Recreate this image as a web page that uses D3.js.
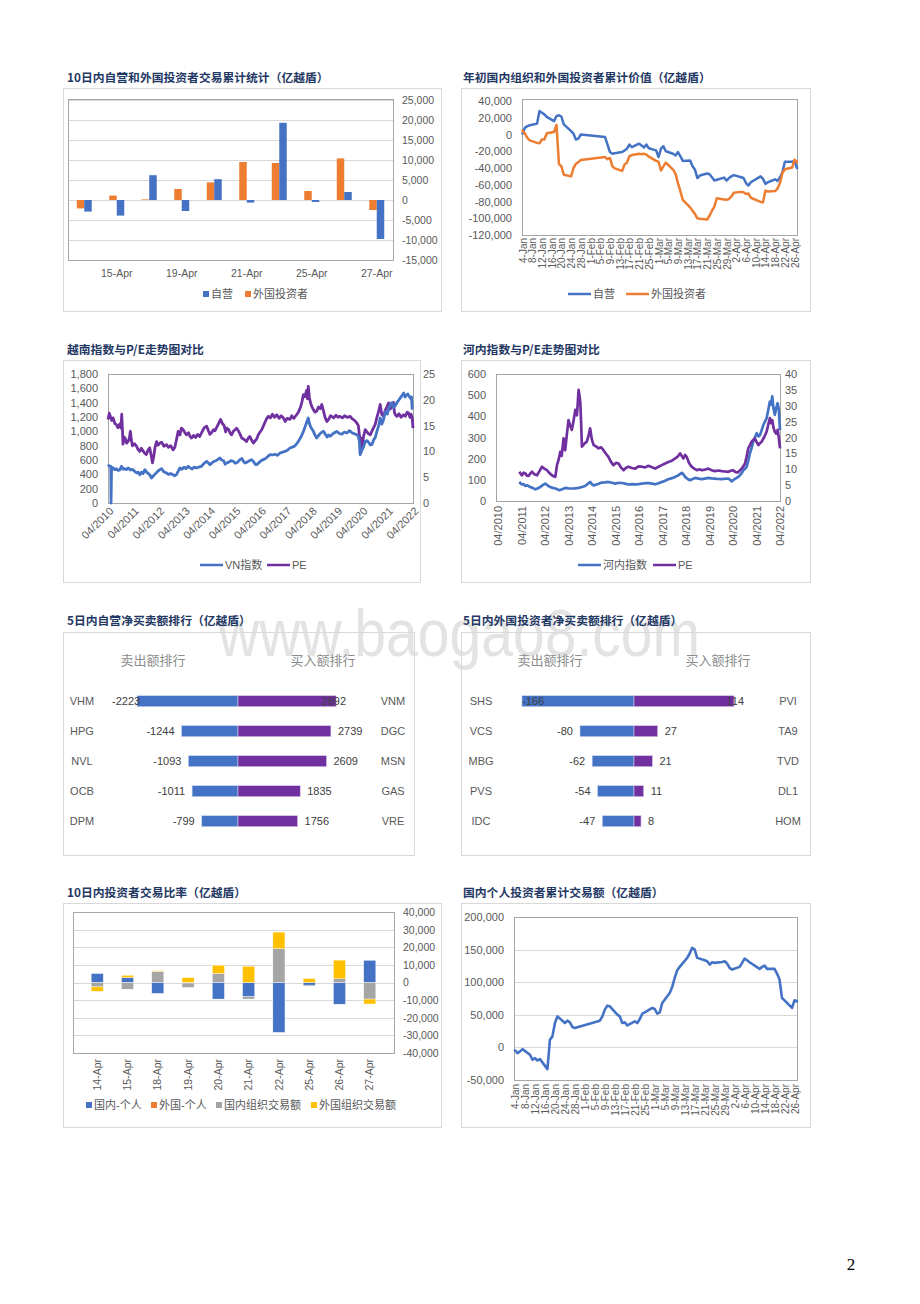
<!DOCTYPE html>
<html><head><meta charset="utf-8">
<script src="https://cdn.jsdelivr.net/npm/d3@7"></script>
<style>body{margin:0;background:#fff}svg{display:block}</style>
</head><body>
<script>
// ---------------- DATA ----------------
const c1Dates = ["14-Apr","15-Apr","18-Apr","19-Apr","20-Apr","21-Apr","22-Apr","25-Apr","26-Apr","27-Apr"];
const c1Labels = ["15-Apr","19-Apr","21-Apr","25-Apr","27-Apr"];
const c1Self = [-2900,-3900,6200,-2750,5200,-650,19300,-500,2000,-9750];
const c1Foreign = [-2100,1100,150,2750,4400,9500,9250,2250,10400,-2500];
const c1Ticks = [-15000,-10000,-5000,0,5000,10000,15000,20000,25000];

const tradeDays = ["01-04","01-05","01-06","01-07","01-10","01-11","01-12","01-13","01-14","01-17","01-18","01-19","01-20","01-21","01-24","01-25","01-26","01-27","01-28",
"02-07","02-08","02-09","02-10","02-11","02-14","02-15","02-16","02-17","02-18","02-21","02-22","02-23","02-24","02-25","02-28",
"03-01","03-02","03-03","03-04","03-07","03-08","03-09","03-10","03-11","03-14","03-15","03-16","03-17","03-18","03-21","03-22","03-23","03-24","03-25","03-28","03-29","03-30","03-31",
"04-01","04-04","04-05","04-06","04-07","04-08","04-12","04-13","04-14","04-15","04-18","04-19","04-20","04-21","04-22","04-25","04-26","04-27"];
const dayTicks = ["4-Jan","8-Jan","12-Jan","16-Jan","20-Jan","24-Jan","28-Jan","1-Feb","5-Feb","9-Feb","13-Feb","17-Feb","21-Feb","25-Feb","1-Mar","5-Mar","9-Mar","13-Mar","17-Mar","21-Mar","25-Mar","29-Mar","2-Apr","6-Apr","10-Apr","14-Apr","18-Apr","22-Apr","26-Apr"];
const c2Self = [1000,8000,10000,11000,13000,28000,26000,24000,21000,16000,22000,23000,21500,12000,4000,1000,-6000,-5000,0,
-3000,-12000,-21000,-23000,-22500,-21000,-19000,-17000,-12000,-15000,-11000,-13000,-15500,-12000,-16500,-19000,
-27000,-17000,-14000,-20000,-23000,-25000,-21000,-26000,-31500,-31000,-38000,-42000,-52000,-49000,-46500,-47500,-51000,-55000,-54000,-51500,-55000,-52000,-50000,
-48500,-51000,-52000,-58000,-61000,-57000,-50000,-53000,-59000,-57000,-53500,-55500,-51000,-45000,-32500,-32500,-31500,-40000];
const c2Foreign = [4400,1000,-4000,-7000,-10000,-10500,-6000,-6000,1500,3000,11500,-35000,-38000,-48000,-50000,-40000,-35000,-33000,-30500,
-27000,-29500,-28000,-38000,-40500,-43500,-36000,-33500,-26000,-24500,-23000,-23500,-23000,-24000,-26500,-31500,
-32500,-43000,-38000,-33500,-42000,-47000,-58000,-68000,-78000,-87000,-91000,-95000,-100000,-100500,-101500,-97000,-91000,-86000,-76000,-77500,-78000,-77000,-74000,
-69500,-68500,-69000,-71000,-70500,-75500,-80500,-81000,-67000,-68000,-67500,-64500,-58000,-46000,-41500,-39500,-30000,-33000];
const c2Ticks = [-120000,-100000,-80000,-60000,-40000,-20000,0,20000,40000];

const yearTicks = ["04/2010","04/2011","04/2012","04/2013","04/2014","04/2015","04/2016","04/2017","04/2018","04/2019","04/2020","04/2021","04/2022"];
const vnIndex = [[2010.25,535],[2010.29,520],[2010.32,512],[2010.36,512],[2010.37,0],[2010.39,500],[2010.45,490],[2010.51,465],[2010.58,478],[2010.64,455],[2010.71,460],[2010.78,512],[2010.85,470],[2010.91,480],[2010.97,465],[2011.05,490],[2011.13,460],[2011.21,470],[2011.30,442],[2011.38,420],[2011.44,430],[2011.50,395],[2011.57,430],[2011.63,410],[2011.70,465],[2011.77,430],[2011.84,410],[2011.90,390],[2011.96,349],[2012.04,380],[2012.12,410],[2012.20,440],[2012.29,465],[2012.36,480],[2012.43,440],[2012.49,430],[2012.55,419],[2012.63,400],[2012.72,410],[2012.81,395],[2012.88,380],[2012.95,400],[2013.02,450],[2013.08,488],[2013.16,470],[2013.24,500],[2013.32,480],[2013.40,512],[2013.48,490],[2013.56,475],[2013.64,500],[2013.73,488],[2013.82,500],[2013.92,510],[2014.02,550],[2014.13,581],[2014.19,560],[2014.26,535],[2014.34,560],[2014.42,580],[2014.50,590],[2014.58,610],[2014.65,628],[2014.72,600],[2014.80,590],[2014.86,540],[2014.92,558],[2015.00,570],[2015.09,590],[2015.18,581],[2015.26,555],[2015.35,570],[2015.44,605],[2015.52,620],[2015.58,580],[2015.64,558],[2015.72,570],[2015.81,590],[2015.90,605],[2015.98,575],[2016.04,540],[2016.10,535],[2016.18,560],[2016.27,590],[2016.36,605],[2016.45,620],[2016.54,650],[2016.62,674],[2016.72,670],[2016.82,680],[2016.92,665],[2017.02,698],[2017.12,710],[2017.22,720],[2017.32,740],[2017.41,767],[2017.50,780],[2017.58,790],[2017.66,820],[2017.74,860],[2017.84,920],[2017.94,1000],[2018.02,1080],[2018.08,1140],[2018.13,1186],[2018.18,1100],[2018.24,1050],[2018.33,1000],[2018.39,950],[2018.46,907],[2018.53,940],[2018.60,970],[2018.67,990],[2018.73,1000],[2018.80,960],[2018.87,920],[2018.93,950],[2018.99,930],[2019.08,960],[2019.16,980],[2019.25,1000],[2019.35,970],[2019.45,960],[2019.55,990],[2019.65,977],[2019.75,1010],[2019.85,980],[2019.95,965],[2020.04,953],[2020.10,930],[2020.14,860],[2020.17,674],[2020.22,720],[2020.30,780],[2020.37,860],[2020.45,870],[2020.52,840],[2020.57,810],[2020.63,814],[2020.70,880],[2020.77,920],[2020.83,1000],[2020.90,1080],[2020.96,1186],[2021.02,1100],[2021.08,1150],[2021.16,1279],[2021.24,1240],[2021.30,1320],[2021.36,1372],[2021.42,1400],[2021.48,1330],[2021.55,1360],[2021.62,1400],[2021.70,1440],[2021.78,1480],[2021.84,1510],[2021.88,1535],[2021.94,1480],[2022.00,1510],[2022.05,1520],[2022.10,1488],[2022.15,1460],[2022.19,1480],[2022.22,1302]];
const vnPE = [[2010.25,16.2],[2010.30,17.4],[2010.34,16.8],[2010.40,16.0],[2010.45,16.5],[2010.52,15.4],[2010.58,15.2],[2010.64,14.6],[2010.71,15.3],[2010.76,14.5],[2010.79,17.2],[2010.82,14.0],[2010.84,11.4],[2010.88,12.8],[2010.93,12.5],[2010.98,11.6],[2011.04,11.9],[2011.09,12.6],[2011.13,13.9],[2011.17,12.2],[2011.21,11.1],[2011.29,11.5],[2011.37,11.0],[2011.43,10.4],[2011.50,10.0],[2011.56,10.6],[2011.63,10.1],[2011.70,9.6],[2011.76,9.4],[2011.82,10.2],[2011.89,10.7],[2011.95,9.2],[2012.00,7.8],[2012.05,9.0],[2012.10,10.8],[2012.16,11.9],[2012.22,11.2],[2012.29,11.6],[2012.36,11.8],[2012.45,11.0],[2012.55,11.3],[2012.63,10.8],[2012.72,11.1],[2012.81,10.3],[2012.88,10.8],[2012.95,12.4],[2013.01,13.9],[2013.08,13.2],[2013.14,14.5],[2013.21,14.2],[2013.28,13.6],[2013.34,13.2],[2013.42,13.6],[2013.48,12.9],[2013.54,12.6],[2013.62,13.1],[2013.70,12.7],[2013.78,13.3],[2013.86,12.9],[2013.95,13.8],[2014.04,14.6],[2014.13,14.9],[2014.20,14.0],[2014.26,13.3],[2014.32,13.6],[2014.40,14.2],[2014.46,14.0],[2014.52,14.6],[2014.60,15.4],[2014.68,16.2],[2014.75,15.4],[2014.82,15.0],[2014.88,13.8],[2014.92,14.5],[2015.00,14.2],[2015.05,13.6],[2015.11,13.2],[2015.18,13.9],[2015.25,14.2],[2015.31,14.5],[2015.38,14.0],[2015.45,13.3],[2015.51,12.6],[2015.58,12.4],[2015.64,12.2],[2015.70,11.9],[2015.76,12.5],[2015.83,12.9],[2015.90,12.2],[2015.97,11.6],[2016.03,12.0],[2016.10,12.4],[2016.16,13.2],[2016.24,13.8],[2016.30,14.2],[2016.36,14.9],[2016.44,15.8],[2016.50,16.4],[2016.56,16.8],[2016.64,16.5],[2016.72,17.2],[2016.80,16.6],[2016.89,17.1],[2016.98,16.4],[2017.06,16.9],[2017.15,16.5],[2017.22,15.8],[2017.30,16.4],[2017.41,16.2],[2017.48,16.9],[2017.56,16.4],[2017.67,17.1],[2017.74,17.6],[2017.82,18.5],[2017.88,19.6],[2017.94,21.0],[2018.00,20.6],[2018.06,21.8],[2018.10,20.2],[2018.13,22.6],[2018.17,20.5],[2018.22,19.4],[2018.27,18.7],[2018.34,18.0],[2018.40,17.6],[2018.46,17.8],[2018.53,18.6],[2018.60,18.3],[2018.66,19.1],[2018.72,18.0],[2018.79,16.6],[2018.86,15.8],[2018.93,16.2],[2019.00,16.9],[2019.05,16.8],[2019.13,16.5],[2019.22,17.0],[2019.30,16.6],[2019.38,16.8],[2019.47,16.5],[2019.56,16.9],[2019.66,16.6],[2019.78,16.8],[2019.86,16.3],[2019.95,16.0],[2020.04,15.5],[2020.10,15.0],[2020.14,13.2],[2020.17,11.9],[2020.21,12.6],[2020.24,10.7],[2020.30,12.8],[2020.37,14.2],[2020.44,13.8],[2020.50,13.4],[2020.57,13.2],[2020.64,14.0],[2020.70,14.6],[2020.76,15.2],[2020.83,16.6],[2020.90,17.8],[2020.96,19.1],[2021.02,17.2],[2021.09,16.8],[2021.16,18.0],[2021.22,18.6],[2021.29,19.4],[2021.35,18.2],[2021.42,18.7],[2021.48,19.5],[2021.52,17.5],[2021.57,17.0],[2021.62,16.8],[2021.70,17.3],[2021.78,16.6],[2021.88,17.1],[2021.95,16.8],[2022.02,17.6],[2022.08,17.4],[2022.13,16.6],[2022.18,17.2],[2022.22,16.4],[2022.25,14.5]];
const c3LeftTicks = [0,200,400,600,800,1000,1200,1400,1600,1800];
const c3RightTicks = [0,5,10,15,20,25];

const hnxIndex = [[2011.16,90],[2011.22,82],[2011.27,78],[2011.34,80],[2011.41,71],[2011.50,74],[2011.62,66],[2011.72,62],[2011.84,55],[2011.95,60],[2012.05,66],[2012.15,75],[2012.26,82],[2012.36,74],[2012.47,66],[2012.58,62],[2012.69,59],[2012.78,55],[2012.86,51],[2012.98,56],[2013.11,62],[2013.25,60],[2013.39,59],[2013.52,60],[2013.68,62],[2013.82,66],[2013.96,71],[2014.06,80],[2014.17,90],[2014.24,80],[2014.32,74],[2014.50,80],[2014.67,87],[2014.80,88],[2014.95,90],[2015.10,86],[2015.24,82],[2015.38,86],[2015.52,85],[2015.66,82],[2015.80,78],[2015.95,80],[2016.09,79],[2016.23,80],[2016.37,82],[2016.51,84],[2016.65,85],[2016.80,82],[2016.94,79],[2017.08,84],[2017.22,90],[2017.36,96],[2017.50,103],[2017.65,108],[2017.79,114],[2017.93,122],[2018.07,133],[2018.14,126],[2018.21,114],[2018.32,104],[2018.42,98],[2018.53,104],[2018.64,109],[2018.78,106],[2018.92,103],[2019.06,106],[2019.20,109],[2019.34,107],[2019.48,106],[2019.62,104],[2019.77,103],[2019.91,105],[2020.05,106],[2020.13,100],[2020.19,93],[2020.30,102],[2020.41,109],[2020.48,115],[2020.55,122],[2020.62,132],[2020.69,146],[2020.76,152],[2020.83,161],[2020.90,190],[2020.97,225],[2021.04,250],[2021.11,280],[2021.18,300],[2021.26,320],[2021.33,305],[2021.40,312],[2021.47,335],[2021.54,359],[2021.61,375],[2021.68,391],[2021.75,430],[2021.82,470],[2021.87,455],[2021.92,494],[2021.97,440],[2022.03,407],[2022.09,440],[2022.15,462],[2022.20,430],[2022.25,335]];
const hnxPE = [[2011.16,9.2],[2011.22,8.5],[2011.27,8.1],[2011.34,8.9],[2011.41,8.7],[2011.48,8.0],[2011.55,7.9],[2011.62,8.6],[2011.69,9.2],[2011.80,8.4],[2011.91,8.1],[2012.02,9.5],[2012.12,10.8],[2012.22,10.2],[2012.33,9.7],[2012.44,8.8],[2012.54,8.1],[2012.62,7.8],[2012.69,7.6],[2012.76,11.3],[2012.83,13.0],[2012.90,15.5],[2012.96,14.2],[2013.04,19.7],[2013.11,16.0],[2013.18,21.0],[2013.25,25.5],[2013.32,23.8],[2013.39,22.4],[2013.46,25.0],[2013.54,28.7],[2013.61,27.0],[2013.68,35.0],[2013.72,33.0],[2013.75,31.3],[2013.79,24.0],[2013.82,17.1],[2013.92,18.0],[2014.03,18.7],[2014.10,20.5],[2014.17,22.9],[2014.24,19.5],[2014.32,17.6],[2014.42,17.2],[2014.53,16.6],[2014.64,16.9],[2014.74,16.0],[2014.85,14.8],[2014.95,13.9],[2015.05,12.4],[2015.16,11.3],[2015.27,12.0],[2015.38,11.8],[2015.48,10.6],[2015.59,9.7],[2015.70,10.5],[2015.80,10.8],[2015.95,10.4],[2016.09,10.2],[2016.23,10.9],[2016.37,10.8],[2016.51,10.6],[2016.65,11.1],[2016.80,10.6],[2016.94,10.2],[2017.08,10.8],[2017.22,11.3],[2017.36,11.8],[2017.50,12.3],[2017.65,12.7],[2017.79,13.4],[2017.90,14.0],[2018.00,15.0],[2018.07,14.2],[2018.14,13.4],[2018.21,14.5],[2018.28,13.9],[2018.38,12.0],[2018.49,10.8],[2018.60,10.2],[2018.71,9.7],[2018.82,10.0],[2018.92,9.7],[2019.06,9.9],[2019.20,10.2],[2019.34,9.7],[2019.48,9.4],[2019.62,9.6],[2019.77,9.4],[2019.91,9.3],[2020.05,9.2],[2020.15,9.5],[2020.26,9.7],[2020.35,9.1],[2020.45,9.0],[2020.54,9.6],[2020.62,10.2],[2020.69,10.9],[2020.76,11.8],[2020.83,14.0],[2020.90,16.6],[2020.97,17.5],[2021.04,18.7],[2021.11,19.2],[2021.18,19.7],[2021.26,18.5],[2021.33,17.6],[2021.40,18.2],[2021.47,18.7],[2021.57,20.0],[2021.68,21.8],[2021.75,24.0],[2021.82,26.1],[2021.87,24.5],[2021.92,25.5],[2021.97,23.2],[2022.03,21.8],[2022.09,21.2],[2022.15,22.4],[2022.20,20.0],[2022.25,16.6]];
const c4LeftTicks = [0,100,200,300,400,500,600];
const c4RightTicks = [0,5,10,15,20,25,30,35,40];

const c5SellNames = ["VHM","HPG","NVL","OCB","DPM"];
const c5Sell = [-2223,-1244,-1093,-1011,-799];
const c5BuyNames = ["VNM","DGC","MSN","GAS","VRE"];
const c5Buy = [2892,2739,2609,1835,1756];
const c6SellNames = ["SHS","VCS","MBG","PVS","IDC"];
const c6Sell = [-166,-80,-62,-54,-47];
const c6BuyNames = ["PVI","TA9","TVD","DL1","HOM"];
const c6Buy = [114,27,21,11,8];

const c7Dates = ["14-Apr","15-Apr","18-Apr","19-Apr","20-Apr","21-Apr","22-Apr","25-Apr","26-Apr","27-Apr"];
const c7Keys = ["国内-个人","外国-个人","国内组织交易额","外国组织交易额"];
const c7DomInd = [5100,2800,-6200,-300,-9400,-8100,-28300,-1500,-12300,12600];
const c7ForInd = [0,0,0,0,0,0,0,0,0,0];
const c7DomOrg = [-2500,-3800,6300,-2500,5100,-1300,19200,-600,2100,-9400];
const c7ForOrg = [-2500,1300,400,2800,4700,9200,9400,2300,10600,-2800];
const c7Ticks = [-40000,-30000,-20000,-10000,0,10000,20000,30000,40000];

const c8Values = [-4600,-8700,-6100,-2600,-11300,-19000,-16400,-20000,-18000,-33300,11800,16900,37400,47600,37400,41000,38400,31300,29700,
41000,47600,57900,64000,63000,50200,47600,37400,38400,33800,40000,37400,43500,51700,53800,60500,
58900,51700,53800,68100,83500,92700,106600,118300,123500,137300,144000,152700,150100,137300,133700,132200,127000,130600,129600,131100,132200,128600,121900,
119400,123500,129600,136300,133700,130600,120400,123500,125500,120400,120400,113200,104000,75800,72200,60500,72200,70700];
const c8Ticks = [-50000,0,50000,100000,150000,200000];

// ---------------- STYLE ----------------
const FONT = "'Liberation Sans','Noto Sans CJK SC',sans-serif";
const CJK = "'Noto Sans CJK SC',sans-serif";
const BLUE = "#4472c4", ORANGE = "#ed7d31", PURPLE = "#7030a0", GREY = "#a5a5a5", YELLOW = "#ffc000";
const TXT = "#595959";
const fmt = d3.formatLocale({decimal:".",thousands:",",grouping:[3],currency:["",""],minus:"-"}).format(",");

const svg = d3.select("body").append("svg").attr("width",920).attr("height",1304);
svg.append("rect").attr("width",920).attr("height",1304).attr("fill","#fff");
const wm = svg.append("g");

function box(x0,y0,x1,y1){
  svg.append("rect").attr("x",x0+0.5).attr("y",y0+0.5).attr("width",x1-x0).attr("height",y1-y0)
    .attr("fill","none").attr("stroke","#d9d9d9").attr("stroke-width",1);
}
function plotFrame(x0,y0,x1,y1){
  svg.append("rect").attr("x",x0+0.5).attr("y",y0+0.5).attr("width",x1-x0).attr("height",y1-y0)
    .attr("fill","none").attr("stroke","#a6a6a6").attr("stroke-width",1);
}
function title(x,y,t){
  svg.append("text").attr("x",x).attr("y",y).text(t).attr("font-family",CJK).attr("font-size",11.8)
    .attr("font-weight","bold").attr("fill","#1f3864");
}
function styleAxis(g,size){
  g.select(".domain").remove();
  g.selectAll(".tick line").remove();
  g.attr("font-family",FONT).attr("font-size",size||10.5).attr("color",TXT);
  g.selectAll("text").attr("fill",TXT);
}
function grid(yScale,ticks,x0,x1){
  svg.append("g").selectAll("line").data(ticks).join("line")
    .attr("x1",x0).attr("x2",x1).attr("y1",d=>Math.round(yScale(d))+0.5).attr("y2",d=>Math.round(yScale(d))+0.5)
    .attr("stroke","#d9d9d9").attr("stroke-width",1);
}
function legendSquare(x,y,color,label){
  svg.append("rect").attr("x",x).attr("y",y-3).attr("width",6).attr("height",6).attr("fill",color);
  svg.append("text").attr("x",x+8).attr("y",y+4).text(label).attr("font-family",FONT).attr("font-size",11).attr("fill",TXT);
}
function legendLine(x,y,color,label){
  svg.append("line").attr("x1",x).attr("x2",x+23).attr("y1",y).attr("y2",y).attr("stroke",color).attr("stroke-width",2.5);
  svg.append("text").attr("x",x+25).attr("y",y+4).text(label).attr("font-family",FONT).attr("font-size",11).attr("fill",TXT);
}
const parseDay = s => d3.timeParse("%Y-%m-%d")("2022-"+s);
const parseTick = s => d3.timeParse("%d-%b-%Y")(s+"-2022");

// ---------------- CHART 1 ----------------
(function(){
  box(63,88,441,311);
  title(67,82,"10日内自营和外国投资者交易累计统计（亿越盾）");
  const L=68,R=393,T=100,B=260;
  const x0 = d3.scaleBand().domain(c1Dates).range([L,R]);
  const x1 = d3.scaleBand().domain(["外国投资者","自营"]).range([0,x0.bandwidth()]).paddingOuter(1.17);
  const y = d3.scaleLinear().domain([-15000,25000]).range([B,T]);
  grid(y,c1Ticks,L,R);
  const series = [["外国投资者",c1Foreign,ORANGE],["自营",c1Self,BLUE]];
  series.forEach(([k,vals,col])=>{
    svg.append("g").selectAll("rect").data(vals).join("rect")
      .attr("x",(d,i)=>x0(c1Dates[i])+x1(k)).attr("width",x1.bandwidth())
      .attr("y",d=>y(Math.max(0,d))).attr("height",d=>Math.abs(y(d)-y(0)))
      .attr("fill",col);
  });
  plotFrame(L,T-1,R,B);
  const gy = svg.append("g").attr("transform",`translate(402,0)`)
    .call(d3.axisRight(y).tickValues(c1Ticks).tickFormat(fmt).tickSize(0).tickPadding(0));
  styleAxis(gy);
  const gx = svg.append("g").attr("transform",`translate(0,${B})`)
    .call(d3.axisBottom(x0).tickValues(c1Labels).tickSize(0).tickPadding(10));
  styleAxis(gx);
  legendSquare(203,294,BLUE,"自营");
  legendSquare(245,294,ORANGE,"外国投资者");
})();

// ---------------- CHART 2 ----------------
(function(){
  box(461,88,810,311);
  title(463,82,"年初国内组织和外国投资者累计价值（亿越盾）");
  const L=522,R=797,T=99,B=235;
  const x = d3.scaleTime().domain([parseDay("01-04"),parseDay("04-27")]).range([L+0.5,R]);
  const y = d3.scaleLinear().domain([-120000,40000]).range([B,T+2]);
  plotFrame(L,T,R,B);
  const line = d3.line().x((d,i)=>x(parseDay(tradeDays[i]))).y(d=>y(d));
  [[c2Self,BLUE],[c2Foreign,ORANGE]].forEach(([vals,col])=>{
    svg.append("path").datum(vals).attr("d",line).attr("fill","none").attr("stroke",col)
      .attr("stroke-width",2.5).attr("stroke-linejoin","round").attr("stroke-linecap","round");
  });
  const gy = svg.append("g").attr("transform",`translate(512,0)`)
    .call(d3.axisLeft(y).tickValues(c2Ticks).tickFormat(fmt).tickSize(0).tickPadding(0));
  styleAxis(gy,11);
  const gx = svg.append("g").attr("transform",`translate(0,${B})`)
    .call(d3.axisBottom(x).tickValues(dayTicks.map(parseTick)).tickFormat(d3.timeFormat("%-d-%b")).tickSize(0));
  styleAxis(gx,10);
  gx.selectAll("text").attr("transform","rotate(-90)").attr("text-anchor","end").attr("x",-3).attr("y",0).attr("dy","0.35em");
  legendLine(568,294,BLUE,"自营");
  legendLine(626,294,ORANGE,"外国投资者");
})();

// ---------------- CHART 3 ----------------
(function(){
  box(63,360,420,582);
  title(67,354,"越南指数与P/E走势图对比");
  const L=108,R=413,T=374,B=503;
  const x = d3.scaleLinear().domain([2010.25,2022.25]).range([L,R]);
  const yL = d3.scaleLinear().domain([0,1800]).range([B,T]);
  const yR = d3.scaleLinear().domain([0,25]).range([B,T]);
  plotFrame(L,T,R,B);
  svg.append("path").datum(vnPE).attr("d",d3.line().x(d=>x(d[0])).y(d=>yR(d[1])))
    .attr("fill","none").attr("stroke",PURPLE).attr("stroke-width",2.8).attr("stroke-linejoin","round");
  svg.append("path").datum(vnIndex).attr("d",d3.line().x(d=>x(d[0])).y(d=>yL(d[1])))
    .attr("fill","none").attr("stroke",BLUE).attr("stroke-width",2.8).attr("stroke-linejoin","round");
  const gl = svg.append("g").attr("transform",`translate(98,0)`)
    .call(d3.axisLeft(yL).tickValues(c3LeftTicks).tickFormat(fmt).tickSize(0).tickPadding(0));
  styleAxis(gl,11);
  const gr = svg.append("g").attr("transform",`translate(423,0)`)
    .call(d3.axisRight(yR).tickValues(c3RightTicks).tickSize(0).tickPadding(0));
  styleAxis(gr,11);
  const gx = svg.append("g").attr("transform",`translate(0,${B})`)
    .call(d3.axisBottom(x).tickValues(yearTicks.map(s=>+s.slice(3)+0.25)).tickFormat((d,i)=>yearTicks[i]).tickSize(0));
  styleAxis(gx,11);
  gx.selectAll("text").attr("transform","translate(3,6) rotate(-45)").attr("text-anchor","end").attr("x",0).attr("y",0).attr("dy","0.35em");
  legendLine(200,565,BLUE,"VN指数");
  legendLine(267,565,PURPLE,"PE");
})();

// ---------------- CHART 4 ----------------
(function(){
  box(461,360,810,582);
  title(463,354,"河内指数与P/E走势图对比");
  const L=496,R=780,T=374,B=501;
  const x = d3.scaleLinear().domain([2010.25,2022.25]).range([L+2,R]);
  const yL = d3.scaleLinear().domain([0,600]).range([B,T]);
  const yR = d3.scaleLinear().domain([0,40]).range([B,T]);
  plotFrame(L,T,R,B);
  svg.append("path").datum(hnxIndex).attr("d",d3.line().x(d=>x(d[0])).y(d=>yL(d[1])))
    .attr("fill","none").attr("stroke",BLUE).attr("stroke-width",2.7).attr("stroke-linejoin","round");
  svg.append("path").datum(hnxPE).attr("d",d3.line().x(d=>x(d[0])).y(d=>yR(d[1])))
    .attr("fill","none").attr("stroke",PURPLE).attr("stroke-width",2.7).attr("stroke-linejoin","round");
  const gl = svg.append("g").attr("transform",`translate(486,0)`)
    .call(d3.axisLeft(yL).tickValues(c4LeftTicks).tickSize(0).tickPadding(0));
  styleAxis(gl,11);
  const gr = svg.append("g").attr("transform",`translate(785,0)`)
    .call(d3.axisRight(yR).tickValues(c4RightTicks).tickSize(0).tickPadding(0));
  styleAxis(gr,11);
  const gx = svg.append("g").attr("transform",`translate(0,${B})`)
    .call(d3.axisBottom(x).tickValues(yearTicks.map(s=>+s.slice(3)+0.25)).tickFormat((d,i)=>yearTicks[i]).tickSize(0));
  styleAxis(gx,11);
  gx.selectAll("text").attr("transform","rotate(-90)").attr("text-anchor","end").attr("x",-5).attr("y",0).attr("dy","0.35em");
  legendLine(578,565,BLUE,"河内指数");
  legendLine(653,565,PURPLE,"PE");
})();

// ---------------- CHART 5 & 6 ----------------
function rankChart(o){
  box(o.bx0,632,o.bx1,855);
  title(o.tx,625,o.title);
  const y = d3.scaleBand().domain(d3.range(o.sell.length)).range([686.2,836.2]).paddingInner(0.633).paddingOuter(0.3165);
  const xs = d3.scaleLinear().domain([0,-o.sellMax]).range([o.cx,o.cx-o.sellW]);
  const xb = d3.scaleLinear().domain([0,o.buyMax]).range([o.cx,o.cx+o.buyW]);
  svg.append("text").attr("x",o.hL).attr("y",665).attr("text-anchor","middle").text("卖出额排行")
    .attr("font-family",CJK).attr("font-size",13).attr("fill","#8c8c8c");
  svg.append("text").attr("x",o.hR).attr("y",665).attr("text-anchor","middle").text("买入额排行")
    .attr("font-family",CJK).attr("font-size",13).attr("fill","#8c8c8c");
  const g = svg.append("g");
  g.selectAll("rect.s").data(o.sell).join("rect").attr("class","s")
    .attr("x",d=>xs(d)).attr("width",d=>o.cx-xs(d)).attr("y",(d,i)=>y(i)).attr("height",y.bandwidth())
    .attr("fill",BLUE).attr("stroke","#c9d6ef").attr("stroke-width",0.6);
  g.selectAll("rect.b").data(o.buy).join("rect").attr("class","b")
    .attr("x",o.cx).attr("width",d=>xb(d)-o.cx).attr("y",(d,i)=>y(i)).attr("height",y.bandwidth())
    .attr("fill",PURPLE).attr("stroke","#d9c6e8").attr("stroke-width",0.6);
  const mid = i => y(i)+y.bandwidth()/2+4;
  o.sell.forEach((v,i)=>{
    const t = g.append("text").text(v).attr("font-family",FONT).attr("font-size",11).attr("fill","#404040")
      .attr("y",mid(i)).attr("text-anchor","start");
    const w = t.node().getComputedTextLength();
    let start = xs(v)-7-w; if(start<o.minStart) start=o.minStart;
    t.attr("x",start);
  });
  o.buy.forEach((v,i)=>{
    const t = g.append("text").text(v).attr("font-family",FONT).attr("font-size",11).attr("fill","#404040")
      .attr("y",mid(i)).attr("text-anchor","start");
    const w = t.node().getComputedTextLength();
    let start = xb(v)+7;
    if(start+w>o.maxEnd) start = xb(v)+10-w;   // label pulled back over the bar end when it would overflow
    t.attr("x",start);
  });
  g.selectAll("text.ln").data(o.sellNames).join("text").attr("class","ln").text(d=>d)
    .attr("x",o.nL).attr("y",(d,i)=>mid(i)).attr("text-anchor","middle")
    .attr("font-family",FONT).attr("font-size",11).attr("fill",TXT);
  g.selectAll("text.rn").data(o.buyNames).join("text").attr("class","rn").text(d=>d)
    .attr("x",o.nR).attr("y",(d,i)=>mid(i)).attr("text-anchor","middle")
    .attr("font-family",FONT).attr("font-size",11).attr("fill",TXT);
}
rankChart({bx0:63,bx1:414,tx:67,title:"5日内自营净买卖额排行（亿越盾）",cx:238,
  sell:c5Sell,buy:c5Buy,sellNames:c5SellNames,buyNames:c5BuyNames,
  sellMax:2500,sellW:113.5,buyMax:3500,buyW:118.7,hL:153,hR:323,nL:82,nR:393,minStart:112,maxEnd:364});
rankChart({bx0:461,bx1:810,tx:463,title:"5日内外国投资者净买卖额排行（亿越盾）",cx:634,
  sell:c6Sell,buy:c6Buy,sellNames:c6SellNames,buyNames:c6BuyNames,
  sellMax:200,sellW:135,buyMax:150,buyW:131.6,hL:550,hR:718,nL:481,nR:788,minStart:522,maxEnd:750});

// ---------------- CHART 7 ----------------
(function(){
  box(63,903,441,1127);
  title(67,897,"10日内投资者交易比率（亿越盾）");
  const L=73,R=394,T=912,B=1053;
  const x = d3.scaleBand().domain(c7Dates).range([L,R]).padding(0.6);
  const y = d3.scaleLinear().domain([-40000,40000]).range([B,T]);
  grid(y,c7Ticks,L,R);
  const cols = [c7DomInd,c7ForInd,c7DomOrg,c7ForOrg];
  const rows = c7Dates.map((d,i)=>{const r={date:d}; c7Keys.forEach((k,j)=>r[k]=cols[j][i]); return r;});
  const stack = d3.stack().keys(c7Keys).offset(d3.stackOffsetDiverging)(rows);
  const colors = [BLUE,ORANGE,GREY,YELLOW];
  stack.forEach((s,j)=>{
    svg.append("g").selectAll("rect").data(s).join("rect")
      .attr("x",d=>x(d.data.date)).attr("width",x.bandwidth())
      .attr("y",d=>y(Math.max(d[0],d[1]))).attr("height",d=>Math.abs(y(d[0])-y(d[1])))
      .attr("fill",colors[j]).attr("stroke","#fff").attr("stroke-width",0.4);
  });
  plotFrame(L,T,R,B);
  const gy = svg.append("g").attr("transform",`translate(403,0)`)
    .call(d3.axisRight(y).tickValues(c7Ticks).tickFormat(fmt).tickSize(0).tickPadding(0));
  styleAxis(gy);
  const gx = svg.append("g").attr("transform",`translate(0,${B})`)
    .call(d3.axisBottom(x).tickSize(0));
  styleAxis(gx,10.5);
  gx.selectAll("text").attr("transform","rotate(-90)").attr("text-anchor","end").attr("x",-6).attr("y",0).attr("dy","0.35em");
  legendSquare(86,1105,BLUE,"国内-个人");
  legendSquare(151,1105,ORANGE,"外国-个人");
  legendSquare(216,1105,GREY,"国内组织交易额");
  legendSquare(311,1105,YELLOW,"外国组织交易额");
})();

// ---------------- CHART 8 ----------------
(function(){
  box(461,903,810,1127);
  title(463,897,"国内个人投资者累计交易额（亿越盾）");
  const L=514,R=797,T=917,B=1080;
  const x = d3.scaleTime().domain([parseDay("01-04"),parseDay("04-27")]).range([L+1,R]);
  const y = d3.scaleLinear().domain([-50000,200000]).range([B,T]);
  grid(y,c8Ticks,L,R);
  plotFrame(L,T,R,B);
  svg.append("path").datum(c8Values).attr("d",d3.line().x((d,i)=>x(parseDay(tradeDays[i]))).y(d=>y(d)))
    .attr("fill","none").attr("stroke",BLUE).attr("stroke-width",2.6).attr("stroke-linejoin","round").attr("stroke-linecap","round");
  const gy = svg.append("g").attr("transform",`translate(504,0)`)
    .call(d3.axisLeft(y).tickValues(c8Ticks).tickFormat(fmt).tickSize(0).tickPadding(0));
  styleAxis(gy,11);
  const gx = svg.append("g").attr("transform",`translate(0,${B})`)
    .call(d3.axisBottom(x).tickValues(dayTicks.map(parseTick)).tickFormat(d3.timeFormat("%-d-%b")).tickSize(0));
  styleAxis(gx,10);
  gx.selectAll("text").attr("transform","rotate(-90)").attr("text-anchor","end").attr("x",-4).attr("y",0).attr("dy","0.35em");
})();

// ---------------- watermark & page number ----------------
wm.append("text").attr("x",218).attr("y",656).text("www.baogao8.com")
  .attr("font-family","'Liberation Sans',sans-serif").attr("font-size",66)
  .attr("textLength",482).attr("lengthAdjust","spacingAndGlyphs")
  .attr("fill","#c8c8c8").attr("opacity",0.5);
svg.append("text").attr("x",851).attr("y",1270).attr("text-anchor","middle").text("2")
  .attr("font-family","'Liberation Serif',serif").attr("font-size",17).attr("fill","#000");
</script>
</body></html>
